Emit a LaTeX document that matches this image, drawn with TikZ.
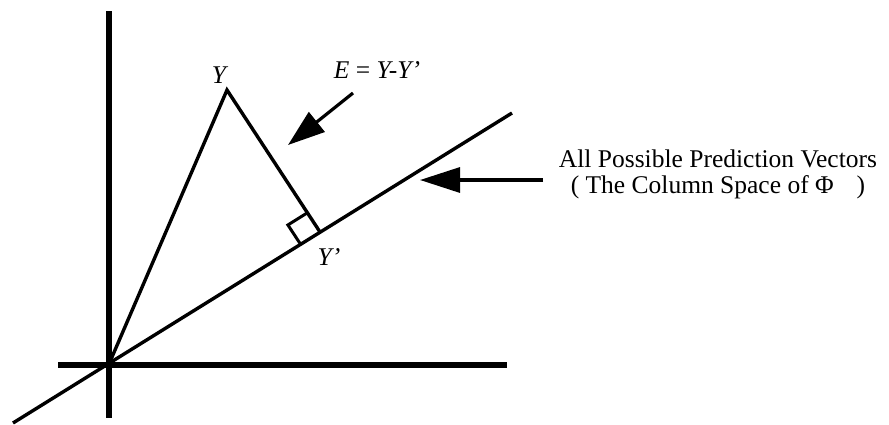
\documentclass[tikz,border=0pt]{standalone}
\usepackage{fontspec}
\setmainfont{Liberation Serif}
\usetikzlibrary{arrows.meta,calc}
\begin{document}
\begin{tikzpicture}[x=1pt,y=-1pt,
  axis/.style={line width=6pt},
  vec/.style={line width=3.4pt},
  pointer/.style={line width=3.2pt},
  lbl/.style={inner sep=0pt,font=\fontsize{25.5}{26}\selectfont}]
\useasboundingbox (0,0) rectangle (889,424);
% axes
\coordinate (vtop) at (109,11);
\coordinate (vbot) at (109,418);
\coordinate (hl) at (58,365);
\coordinate (hr) at (507,365);
\draw[axis] (vtop) -- (vbot);
\draw[axis] (hl) -- (hr);
% prediction line
\coordinate (dl) at (13,423);
\coordinate (dr) at (512,113);
\draw[vec] (dl) -- (dr);
% vectors
\coordinate (O) at (109,364);
\coordinate (Y) at (227,90);
\coordinate (F) at (320,232);
\draw[vec,line join=miter] (O) -- (Y) -- (F);
% right angle mark
\coordinate (ra) at ($(F)!23pt!(Y)$);
\coordinate (rb) at ($(F)!23pt!(O)$);
\coordinate (rc) at ($(ra)+(rb)-(F)$);
\draw[line width=3pt] (ra) -- (rc) -- (rb);
% labels
\node[lbl] (ylab) at (220,75) {\textit{Y}};
\node[lbl] (yplab) at (329,257) {\textit{Y'}};
\node[lbl] (elab) at (377,70) {\textit{E} = \textit{Y-Y'}};
\node[lbl,align=center] (alab) at (718,174) {All Possible Prediction Vectors\\( The Column Space of Φ\hspace{0.9em})};
% pointers
\coordinate (e1) at (353,93);
\coordinate (e2) at (288,145);
\draw[pointer,-{Triangle[length=37pt,width=25pt]}] (e1) -- (e2);
\coordinate (a1) at (543,180);
\coordinate (a2) at (420,180);
\draw[pointer,-{Triangle[length=40pt,width=25pt]}] (a1) -- (a2);
\end{tikzpicture}
\end{document}
